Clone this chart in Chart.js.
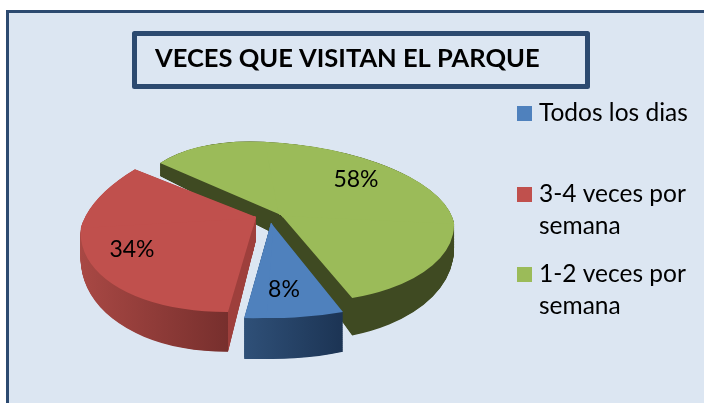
<!DOCTYPE html>
<html><head><meta charset="utf-8">
<style>html,body{margin:0;padding:0;background:#fff}canvas{display:block}</style>
<script src="https://cdn.jsdelivr.net/npm/chart.js@4"></script>
</head><body>
<canvas id="c" width="704" height="403"></canvas>
<script>
const categories = ["Todos los dias", "3-4 veces por semana", "1-2 veces por semana"];
const legendLines = [["Todos los dias"], ["3-4 veces por", "semana"], ["1-2 veces por", "semana"]];
const values = [8, 34, 58];
const titleText = "VECES QUE VISITAN EL PARQUE";
const topColors = ["#4F81BD", "#C0504D", "#9BBB59"];

// Per-slice projection onto the tilted, exploded 3D view.
const views = [
  { apex:[271,223], ur:[199,4.3], ul:[-204,5], vd:[-7,95], vu:[0,-90], label:[284,290],
    wall:[[244,"#2F5078"],[343,"#1C3454"]] },
  { apex:[256,217], ur:[160,0], ul:[-175,10], vd:[-11,94.5], vu:[27.4,-90.4], label:[132,250],
    wall:[[81,"#A84844"],[228,"#772F2D"],[228.5,"#9E3F3C"],[262,"#9E3F3C"]] },
  { apex:[281,215], ur:[173,8], ul:[-142.6,-8.9], vd:[3.3,87], vu:[-14,-73], label:[356,180],
    wall:[[100,"#3F4A22"],[460,"#3F4A22"]] }
];
const legendRows = [[113,[113]], [194,[194,226]], [274,[274,306]]];
const drawOrder = [2, 1, 0];

function drawSlice(ctx, arc, view, t, fill) {
  const R = arc.outerRadius;
  const quads = [[view.ur,view.vd,0,0],[view.ul,view.vd,-1,0],[view.ul,view.vu,-1,-1],[view.ur,view.vu,0,-1]];
  for (const [eu, ev, qx, qy] of quads) {
    const su = qx ? -1 : 1, sv = qy ? -1 : 1;
    ctx.save();
    ctx.transform(1, 0, 0, 1 + 0.18*t, 0, t*(13 - 0.18*163));
    ctx.translate(view.apex[0], view.apex[1]);
    ctx.transform(su*eu[0]/R, su*eu[1]/R, sv*ev[0]/R, sv*ev[1]/R, 0, 0);
    ctx.translate(-arc.x, -arc.y);
    ctx.beginPath();
    const big = R*1.2, m = 2;
    ctx.rect(arc.x + (qx ? -big : -m), arc.y + (qy ? -big : -m), big + m, big + m);
    ctx.clip();
    const saved = arc.options;
    arc.options = Object.create(saved, { backgroundColor: { value: fill(ctx) } });
    arc.draw(ctx);
    arc.options = saved;
    ctx.restore();
  }
}
function wallFill(view) {
  return ctx => {
    const m = ctx.getTransform(), inv = m.inverse();
    const s = view.wall, x0 = s[0][0], x1 = s[s.length-1][0], Y = view.apex[1];
    const p0 = inv.transformPoint({x:x0, y:Y});
    const k = (x1 - x0) / (m.a*m.a + m.c*m.c);
    const g = ctx.createLinearGradient(p0.x, p0.y, p0.x + m.a*k, p0.y + m.c*k);
    s.forEach(([x,c]) => g.addColorStop((x-x0)/(x1-x0), c));
    return g;
  };
}
const panel = { id:"panel", beforeDraw(chart) {
  const c = chart.ctx;
  c.save();
  c.fillStyle = "#fff"; c.fillRect(0,0,704,403);
  c.fillStyle = "#DCE6F2"; c.fillRect(7,11,697,392);
  c.strokeStyle = "#2C4A70"; c.lineWidth = 3;
  c.beginPath(); c.moveTo(7.5,403); c.lineTo(7.5,11.5); c.lineTo(704,11.5); c.stroke();
  c.lineWidth = 5; c.lineJoin = "round";
  c.strokeRect(134.5,33.5,453,53);
  c.restore();
}};
const pie3d = { id:"pie3d", beforeDatasetsDraw(chart) {
  const ctx = chart.ctx, arcs = chart.getDatasetMeta(0).data;
  for (const i of drawOrder) {
    const v = views[i];
    for (let k = 60; k >= 1; k--) drawSlice(ctx, arcs[i], v, k/60, wallFill(v));
    drawSlice(ctx, arcs[i], v, 0, () => topColors[i]);
  }
  return false;
}};
const labels3d = { id:"labels3d", afterDraw(chart) {
  const c = chart.ctx;
  c.save();
  c.fillStyle = "#000"; c.textBaseline = "middle";
  c.font = "23px Lato"; c.textAlign = "center";
  values.forEach((v,i) => c.fillText(v + "%", views[i].label[0], views[i].label[1]));
  c.textAlign = "left"; c.font = "24.5px Lato";
  legendLines.forEach((lines,i) => {
    c.fillStyle = topColors[i];
    c.fillRect(517, legendRows[i][0]-7, 15, 15);
    c.fillStyle = "#000";
    lines.forEach((t,j) => c.fillText(t, 539, legendRows[i][1][j]));
  });
  c.restore();
}};
new Chart(document.getElementById("c"), {
  type: "pie",
  data: { labels: categories, datasets: [{ data: values, backgroundColor: topColors, borderWidth: 0 }] },
  options: {
    responsive: false, animation: false, rotation: 156.8,
    layout: { padding: { left: 155, top: 43 } },
    plugins: {
      legend: { display: false }, tooltip: { enabled: false },
      title: { display: true, text: titleText, align: "start", color: "#000",
               font: { family: "Lato", size: 25.5, weight: "bold" }, padding: 0 }
    }
  },
  plugins: [panel, pie3d, labels3d]
});
</script>
</body></html>
